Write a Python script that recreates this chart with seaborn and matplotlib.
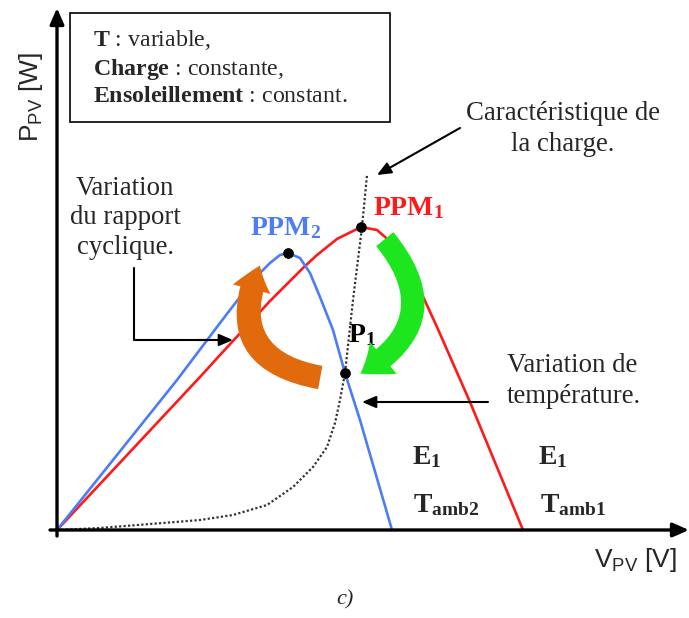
"""
Caracteristique P(V) d'un module PV : effet de la temperature (T variable)
avec la caracteristique de la charge, points PPM1 / PPM2 / P1.
"""

import matplotlib
matplotlib.use("Agg")
import matplotlib.pyplot as plt
import pandas as pd
import seaborn as sns
from matplotlib.patches import FancyArrowPatch, Rectangle

# courbe P(V) a Tamb1 (rouge)
v_tamb1 = [0, 143, 163, 213, 246, 260, 280, 304, 320, 343, 363, 380, 413, 466]
p_tamb1 = [0, 153, 175, 229, 262, 275, 291, 303, 300, 280, 240, 203, 128, 0]

# courbe P(V) a Tamb2 (bleu)
v_tamb2 = [0, 120, 163, 196, 213, 223, 231, 243, 253, 263, 276, 288, 303, 335]
p_tamb2 = [0, 150, 207, 250, 267, 275, 277, 272, 257, 233, 200, 157, 110, 0]

# caracteristique de la charge (pointilles)
v_load = [0, 43, 106, 143, 176, 210, 236, 256, 270, 278, 283, 288, 296, 305, 310]
p_load = [0, 2, 7, 10, 15, 25, 43, 63, 83, 107, 130, 157, 230, 303, 355]

# points remarquables
pt_names = ["PPM2", "PPM1", "P1"]
pt_v = [231, 304, 288]
pt_p = [277, 303, 157]

RED = "#ff1a1a"
BLUE = "#4d7cf5"

sns.set_theme(style="white")
plt.rcParams["font.family"] = ["Liberation Serif", "DejaVu Serif"]
plt.rcParams["mathtext.fontset"] = "custom"
plt.rcParams["mathtext.rm"] = "Liberation Serif"
plt.rcParams["mathtext.bf"] = "Liberation Serif:bold"
plt.rcParams["mathtext.sf"] = "Liberation Sans"

fig = plt.figure(figsize=(6.89, 6.18), dpi=100)
ax = fig.add_axes([0, 0, 1, 1])
ax.set_xlim(-57, 632)
ax.set_ylim(-88, 530)
ax.axis("off")

df1 = pd.DataFrame({"V": v_tamb1, "P": p_tamb1})
df2 = pd.DataFrame({"V": v_tamb2, "P": p_tamb2})
dfl = pd.DataFrame({"V": v_load, "P": p_load})
sns.lineplot(data=df1, x="V", y="P", sort=False, color=RED, lw=1.9, ax=ax)
sns.lineplot(data=df2, x="V", y="P", sort=False, color=BLUE, lw=1.9, ax=ax)
sns.lineplot(data=dfl, x="V", y="P", sort=False, color="#333333", lw=1.6,
             linestyle=(0, (1, 1)), ax=ax)
sns.scatterplot(x=pt_v, y=pt_p, color="black", s=50, edgecolor="black", zorder=6, ax=ax)

# axes avec fleches
head = "-|>,head_width=0.35,head_length=0.8"
ax.annotate("", xy=(0, 522), xytext=(0, -6),
            arrowprops=dict(arrowstyle=head, lw=2.4, color="black", shrinkA=0, shrinkB=0))
ax.annotate("", xy=(632, 0), xytext=(-7, 0),
            arrowprops=dict(arrowstyle=head, lw=2.4, color="black", shrinkA=0, shrinkB=0))
ax.text(-26, 433, r"P$_\mathsf{PV}$ [W]", family="Liberation Sans", fontsize=19,
        rotation=90, ha="center", va="center")
ax.text(578, -30, r"V$_\mathsf{PV}$ [V]", family="Liberation Sans", fontsize=19,
        ha="center", va="center")

# encadre des conditions
ax.add_patch(Rectangle((13, 408), 320, 109, fill=False, lw=1.2, ec="black"))
ax.text(36, 490, r"$\mathbf{T}$ : variable,", fontsize=17.2, va="center")
ax.text(36, 461, r"$\mathbf{Charge}$ : constante,", fontsize=17.2, va="center")
ax.text(36, 434, r"$\mathbf{Ensoleillement}$ : constant.", fontsize=17.2, va="center")

# etiquettes des points
ax.text(193, 302, r"$\mathbf{PPM_2}$", color=BLUE, fontsize=20, va="center")
ax.text(316, 322, r"$\mathbf{PPM_1}$", color=RED, fontsize=20, va="center")
ax.text(291, 195, r"$\mathbf{P_1}$", color="black", fontsize=20, va="center")

ax.text(355, 73, r"$\mathbf{E_1}$", fontsize=20, va="center")
ax.text(481, 73, r"$\mathbf{E_1}$", fontsize=20, va="center")
ax.text(356, 25, r"$\mathbf{T_{amb2}}$", fontsize=20, va="center")
ax.text(483, 25, r"$\mathbf{T_{amb1}}$", fontsize=20, va="center")

# annotations avec fleches
thin = "-|>,head_width=0.3,head_length=0.7"
ax.text(506, 401, "Caractéristique de\nla charge.", fontsize=19.3, ha="center",
        va="center", linespacing=1.3)
ax.annotate("", xy=(320, 355), xytext=(403, 402),
            arrowprops=dict(arrowstyle=thin, lw=1.5, color="black", shrinkA=0, shrinkB=0))

ax.text(68, 312, "Variation\ndu rapport\ncyclique.", fontsize=19.3, ha="center",
        va="center", linespacing=1.22)
ax.plot([77, 77, 150], [262, 190, 190], color="black", lw=1.5)
ax.annotate("", xy=(176, 190), xytext=(140, 190),
            arrowprops=dict(arrowstyle=thin, lw=1.5, color="black", shrinkA=0, shrinkB=0))

ax.text(450, 149, "Variation de\ntempérature.", fontsize=19.3, ha="left",
        va="center", linespacing=1.3)
ax.annotate("", xy=(305, 128), xytext=(431, 128),
            arrowprops=dict(arrowstyle=thin, lw=1.5, color="black", shrinkA=0, shrinkB=0))

# fleches courbes
ax.add_patch(FancyArrowPatch((326, 293), (301, 155),
                             connectionstyle="arc3,rad=-0.6",
                             arrowstyle="simple,head_width=30,head_length=20,tail_width=16",
                             color="#1ee61e", lw=0, zorder=4))
ax.add_patch(FancyArrowPatch((266, 152), (204, 267),
                             connectionstyle="arc3,rad=-0.64",
                             arrowstyle="simple,head_width=28,head_length=18,tail_width=17",
                             color="#e06a0c", lw=0, zorder=4))

ax.text(288, -70, "c)", fontsize=16, style="italic", ha="center", va="center")

fig.savefig("out.png", dpi=100)
